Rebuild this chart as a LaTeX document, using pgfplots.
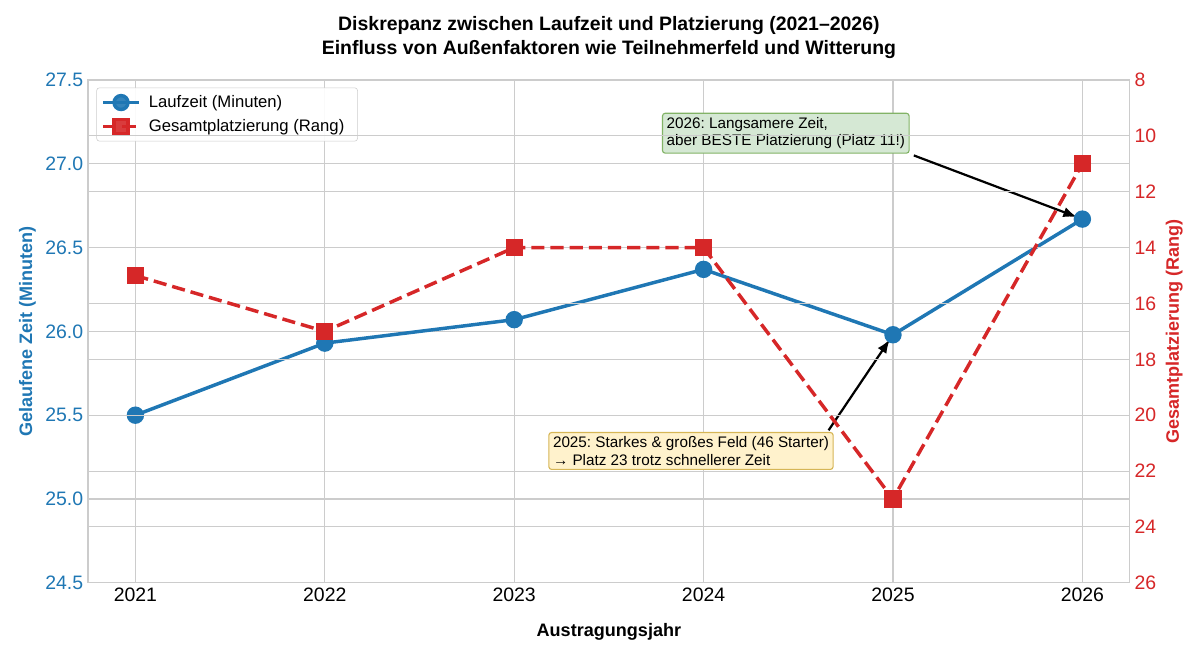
\documentclass[border=0pt]{standalone}
\usepackage{pgfplots}
\pgfplotsset{compat=1.18}
\usepackage{fontspec}
\setmainfont{Liberation Sans}
\usetikzlibrary{arrows.meta}
\definecolor{mblue}{HTML}{1F77B4}
\definecolor{mred}{HTML}{D62728}
\definecolor{gridc}{HTML}{CCCCCC}
\definecolor{gfill}{HTML}{D5E8D4}
\definecolor{gedge}{HTML}{82B366}
\definecolor{yfill}{HTML}{FFF2CC}
\definecolor{yedge}{HTML}{D6B656}
\frenchspacing
\begin{document}
\begin{tikzpicture}
\path[use as bounding box] (-63.4pt,-55.4pt) rectangle (800.6pt,419.6pt);
\pgfplotsset{
  common/.style={
    scale only axis, width=750pt, height=362pt,
    xmin=2020.75, xmax=2026.25,
    /pgf/number format/assume math mode=true,
    axis line style={gridc, line width=0.8pt},
    major tick length=0pt,
    grid style={gridc, line width=0.8pt},
    tick label style={font=\fontsize{14}{16}\selectfont},
  }
}
\begin{axis}[common,
  ymin=24.5, ymax=27.5,
  ytick={24.5,25,25.5,26,26.5,27,27.5},
  yticklabel style={mblue, /pgf/number format/.cd, fixed, fixed zerofill, precision=1},
  xtick={2021,2022,2023,2024,2025,2026},
  xticklabel style={/pgf/number format/.cd, set thousands separator={}},
  xmajorgrids, ymajorgrids,
  xlabel={\textbf{Austragungsjahr}},
  xlabel style={font=\fontsize{13}{15}\selectfont, yshift=-9pt},
  ylabel={\textbf{Gelaufene Zeit (Minuten)}},
  ylabel style={font=\fontsize{13}{15}\selectfont, mblue, yshift=0pt},
  title style={font=\fontsize{14}{17}\selectfont\bfseries, align=center, yshift=6pt},
  title={Diskrepanz zwischen Laufzeit und Platzierung (2021–2026)\\Einfluss von Außenfaktoren wie Teilnehmerfeld und Witterung},
  legend style={font=\fontsize{12}{14}\selectfont, draw=gridc, rounded corners=2pt, fill=white, fill opacity=0.9, text opacity=1, row sep=3pt, at={(0.008,0.985)}, anchor=north west, inner sep=3.5pt, nodes={inner xsep=6pt}},
  legend cell align=left,
  legend image code/.code={\draw[#1] (0pt,0pt) -- (0.9cm,0pt); \path[#1, solid] plot coordinates {(0.45cm,0pt)};},
]
\addplot[mblue, line width=2.5pt, mark=*, mark size=5pt] coordinates {
(2021,25.50) (2022,25.93) (2023,26.07) (2024,26.37) (2025,25.98) (2026,26.67)};
\addlegendentry{Laufzeit (Minuten)}
\addlegendimage{mred, line width=2.5pt, dash pattern=on 9.5pt off 4.3pt, mark=square*, mark size=5pt}
\addlegendentry{Gesamtplatzierung (Rang)}
\node[draw=gedge, fill=gfill, rounded corners=2pt, align=left, anchor=north west, inner sep=3pt, font=\fontsize{11}{12.5}\selectfont, line width=0.8pt] at (axis cs:2023.78,27.305) {2026: Langsamere Zeit,\\aber BESTE Platzierung (Platz 11!)};
\draw[-{Latex[length=10pt,width=7.5pt]}, line width=1.6pt, shorten >=4pt] (axis cs:2025.11,27.05) -- (axis cs:2026,26.67);
\node[draw=yedge, fill=yfill, rounded corners=2pt, align=left, anchor=north west, inner sep=3pt, font=\fontsize{11}{12.5}\selectfont, line width=0.8pt] at (axis cs:2023.18,25.40) {2025: Starkes \& großes Feld (46 Starter)\\→ Platz 23 trotz schnellerer Zeit};
\draw[-{Latex[length=10pt,width=7.5pt]}, line width=1.6pt, shorten >=4pt] (axis cs:2024.66,25.41) -- (axis cs:2025,25.98);
\end{axis}
\begin{axis}[common,
  axis x line=none,
  axis y line*=right,
  y dir=reverse,
  ymin=8, ymax=26,
  ytick={8,10,...,26},
  yticklabel style={mred},
  ymajorgrids,
  ylabel={\textbf{Gesamtplatzierung (Rang)}},
  ylabel style={font=\fontsize{13}{15}\selectfont, mred},
]
\addplot[mred, line width=2.5pt, dash pattern=on 9.5pt off 4.3pt, mark=square*, mark size=5pt, mark options={solid}] coordinates {
(2021,15) (2022,17) (2023,14) (2024,14) (2025,23) (2026,11)};
\end{axis}
\end{tikzpicture}
\end{document}
